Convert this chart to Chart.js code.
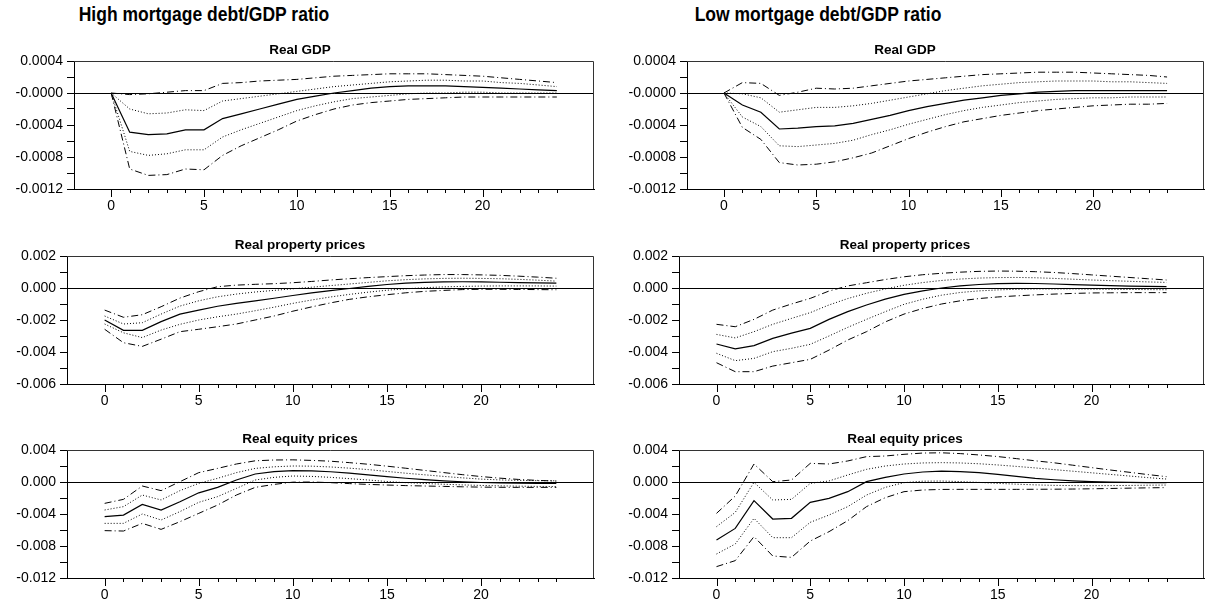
<!DOCTYPE html>
<html>
<head>
<meta charset="utf-8">
<script src="https://cdn.jsdelivr.net/npm/chart.js@4.4.1/dist/chart.umd.min.js"></script>
<style>
  body { margin: 0; background: #fff; width: 1206px; height: 603px; position: relative; overflow: hidden;
         font-family: "Liberation Sans", Arial, sans-serif; }
  .head { position: absolute; top: 5px; font-weight: bold; font-size: 17.5px; line-height: 20px;
          white-space: nowrap; transform: translateX(-50%) scaleY(1.12); transform-origin: 50% 100%; color: #000; }
  .panel { position: absolute; }
</style>
</head>
<body>
<div class="head" style="left:204px">High mortgage debt/GDP ratio</div>
<div class="head" style="left:818px">Low mortgage debt/GDP ratio</div>

<div class="panel" style="left:0;top:40px"><canvas id="hiGdpChart" width="600" height="176"></canvas></div>
<div class="panel" style="left:604px;top:40px"><canvas id="loGdpChart" width="602" height="176"></canvas></div>
<div class="panel" style="left:0;top:235px"><canvas id="hiPropChart" width="600" height="176"></canvas></div>
<div class="panel" style="left:604px;top:235px"><canvas id="loPropChart" width="602" height="176"></canvas></div>
<div class="panel" style="left:0;top:429px"><canvas id="hiEqChart" width="600" height="174"></canvas></div>
<div class="panel" style="left:604px;top:429px"><canvas id="loEqChart" width="602" height="174"></canvas></div>

<script>
// ---------- data ----------
const horizons = [0,1,2,3,4,5,6,7,8,9,10,11,12,13,14,15,16,17,18,19,20,21,22,23,24];
const xTickLabels = ['0', '5', '10', '15', '20'];
const gdpTickLabels = ['-0.0012', '-0.0008', '-0.0004', '-0.0000', '0.0004'];
const propTickLabels = ['-0.006', '-0.004', '-0.002', '0.000', '0.002'];
const eqTickLabels = ['-0.012', '-0.008', '-0.004', '0.000', '0.004'];

// High mortgage debt/GDP - Real GDP
const hiGdp    = [0, -0.00049, -0.00052, -0.00051, -0.00046, -0.00046, -0.00032, -0.00026, -0.00020, -0.00014, -0.00008, -0.00004, 0.00000, 0.00003, 0.00006, 0.00008, 0.00009, 0.00009, 0.00009, 0.00008, 0.00007, 0.00006, 0.00005, 0.00004, 0.00003];
const hiGdpUp1 = [0, -0.00020, -0.00026, -0.00025, -0.00021, -0.00022, -0.00010, -0.00007, -0.00004, -0.00001, 0.00002, 0.00005, 0.00008, 0.00010, 0.00012, 0.00014, 0.00015, 0.00016, 0.00016, 0.00015, 0.00015, 0.00013, 0.00012, 0.00010, 0.00008];
const hiGdpLo1 = [0, -0.00073, -0.00078, -0.00076, -0.00071, -0.00071, -0.00055, -0.00046, -0.00038, -0.00030, -0.00022, -0.00016, -0.00011, -0.00007, -0.00005, -0.00003, -0.00001, 0.00000, 0.00000, 0.00001, 0.00001, 0.00000, 0.00000, 0.00000, 0.00000];
const hiGdpUp2 = [0, -0.00002, -0.00001, 0.00001, 0.00003, 0.00003, 0.00012, 0.00013, 0.00015, 0.00016, 0.00017, 0.00019, 0.00021, 0.00022, 0.00023, 0.00024, 0.00024, 0.00024, 0.00023, 0.00022, 0.00021, 0.00019, 0.00017, 0.00015, 0.00013];
const hiGdpLo2 = [0, -0.00095, -0.00103, -0.00102, -0.00095, -0.00096, -0.00078, -0.00066, -0.00056, -0.00046, -0.00035, -0.00027, -0.00020, -0.00015, -0.00012, -0.00010, -0.00008, -0.00007, -0.00006, -0.00005, -0.00005, -0.00005, -0.00005, -0.00005, -0.00005];

// Low mortgage debt/GDP - Real GDP
const loGdp    = [0, -0.00015, -0.00024, -0.00045, -0.00044, -0.00042, -0.00041, -0.00038, -0.00033, -0.00028, -0.00022, -0.00017, -0.00013, -0.00009, -0.00006, -0.00003, -0.00001, 0.00001, 0.00002, 0.00003, 0.00003, 0.00003, 0.00003, 0.00003, 0.00003];
const loGdpUp1 = [0, -0.00001, -0.00006, -0.00024, -0.00021, -0.00018, -0.00018, -0.00016, -0.00013, -0.00009, -0.00005, -0.00001, 0.00003, 0.00006, 0.00009, 0.00011, 0.00013, 0.00014, 0.00015, 0.00015, 0.00015, 0.00014, 0.00014, 0.00013, 0.00012];
const loGdpLo1 = [0, -0.00030, -0.00042, -0.00066, -0.00067, -0.00065, -0.00063, -0.00059, -0.00052, -0.00046, -0.00039, -0.00033, -0.00027, -0.00022, -0.00018, -0.00015, -0.00012, -0.00010, -0.00008, -0.00007, -0.00006, -0.00006, -0.00005, -0.00005, -0.00005];
const loGdpUp2 = [0, 0.00013, 0.00012, -0.00003, 0.00001, 0.00006, 0.00005, 0.00006, 0.00009, 0.00012, 0.00015, 0.00017, 0.00019, 0.00021, 0.00023, 0.00024, 0.00025, 0.00026, 0.00026, 0.00026, 0.00025, 0.00024, 0.00023, 0.00022, 0.00020];
const loGdpLo2 = [0, -0.00043, -0.00058, -0.00087, -0.00090, -0.00089, -0.00086, -0.00081, -0.00075, -0.00066, -0.00057, -0.00049, -0.00042, -0.00036, -0.00032, -0.00028, -0.00025, -0.00022, -0.00020, -0.00018, -0.00016, -0.00015, -0.00014, -0.00014, -0.00013];

// High mortgage debt/GDP - Real property prices
const hiProp    = [-0.00200, -0.00265, -0.00265, -0.00210, -0.00163, -0.00138, -0.00114, -0.00096, -0.00080, -0.00064, -0.00047, -0.00030, -0.00016, -0.00003, 0.00010, 0.00022, 0.00030, 0.00035, 0.00038, 0.00039, 0.00038, 0.00036, 0.00034, 0.00032, 0.00030];
const hiPropUp1 = [-0.00175, -0.00225, -0.00217, -0.00163, -0.00113, -0.00080, -0.00055, -0.00038, -0.00025, -0.00015, -0.00005, 0.00005, 0.00015, 0.00025, 0.00035, 0.00045, 0.00052, 0.00057, 0.00060, 0.00061, 0.00060, 0.00058, 0.00054, 0.00049, 0.00043];
const hiPropLo1 = [-0.00225, -0.00280, -0.00310, -0.00263, -0.00227, -0.00200, -0.00180, -0.00163, -0.00142, -0.00120, -0.00096, -0.00075, -0.00056, -0.00040, -0.00026, -0.00014, -0.00005, 0.00002, 0.00007, 0.00010, 0.00012, 0.00013, 0.00013, 0.00013, 0.00012];
const hiPropUp2 = [-0.00138, -0.00183, -0.00167, -0.00117, -0.00063, -0.00023, 0.00008, 0.00018, 0.00023, 0.00027, 0.00033, 0.00041, 0.00050, 0.00058, 0.00065, 0.00071, 0.00077, 0.00081, 0.00084, 0.00084, 0.00082, 0.00079, 0.00074, 0.00068, 0.00061];
const hiPropLo2 = [-0.00258, -0.00342, -0.00365, -0.00320, -0.00273, -0.00258, -0.00242, -0.00225, -0.00200, -0.00175, -0.00145, -0.00118, -0.00093, -0.00071, -0.00055, -0.00042, -0.00030, -0.00021, -0.00015, -0.00010, -0.00008, -0.00008, -0.00009, -0.00010, -0.00011];

// Low mortgage debt/GDP - Real property prices
const loProp    = [-0.00350, -0.00380, -0.00360, -0.00315, -0.00282, -0.00252, -0.00196, -0.00148, -0.00106, -0.00070, -0.00040, -0.00018, 0.00000, 0.00013, 0.00022, 0.00027, 0.00029, 0.00028, 0.00025, 0.00021, 0.00018, 0.00015, 0.00012, 0.00010, 0.00008];
const loPropUp1 = [-0.00290, -0.00312, -0.00273, -0.00227, -0.00190, -0.00154, -0.00106, -0.00066, -0.00033, -0.00006, 0.00017, 0.00034, 0.00047, 0.00056, 0.00062, 0.00065, 0.00066, 0.00064, 0.00060, 0.00055, 0.00050, 0.00046, 0.00042, 0.00038, 0.00035];
const loPropLo1 = [-0.00408, -0.00454, -0.00440, -0.00398, -0.00377, -0.00352, -0.00300, -0.00246, -0.00196, -0.00148, -0.00102, -0.00070, -0.00045, -0.00028, -0.00018, -0.00012, -0.00008, -0.00006, -0.00006, -0.00006, -0.00007, -0.00008, -0.00009, -0.00010, -0.00011];
const loPropUp2 = [-0.00227, -0.00242, -0.00196, -0.00138, -0.00100, -0.00065, -0.00019, 0.00013, 0.00033, 0.00053, 0.00070, 0.00083, 0.00092, 0.00099, 0.00104, 0.00106, 0.00105, 0.00102, 0.00097, 0.00090, 0.00082, 0.00074, 0.00066, 0.00058, 0.00050];
const loPropLo2 = [-0.00467, -0.00523, -0.00523, -0.00488, -0.00467, -0.00446, -0.00388, -0.00325, -0.00273, -0.00212, -0.00163, -0.00128, -0.00100, -0.00080, -0.00066, -0.00056, -0.00049, -0.00043, -0.00038, -0.00034, -0.00031, -0.00030, -0.00029, -0.00029, -0.00029];

// High mortgage debt/GDP - Real equity prices
const hiEq    = [-0.00433, -0.00413, -0.00280, -0.00350, -0.00246, -0.00135, -0.00067, 0.00025, 0.00100, 0.00130, 0.00142, 0.00140, 0.00128, 0.00110, 0.00090, 0.00068, 0.00047, 0.00030, 0.00015, 0.00003, -0.00006, -0.00011, -0.00014, -0.00016, -0.00017];
const hiEqUp1 = [-0.00350, -0.00308, -0.00163, -0.00225, -0.00108, -0.00017, 0.00046, 0.00117, 0.00170, 0.00190, 0.00200, 0.00198, 0.00188, 0.00173, 0.00155, 0.00132, 0.00110, 0.00090, 0.00070, 0.00052, 0.00036, 0.00026, 0.00020, 0.00017, 0.00015];
const hiEqLo1 = [-0.00517, -0.00517, -0.00400, -0.00475, -0.00370, -0.00254, -0.00183, -0.00080, 0.00025, 0.00058, 0.00075, 0.00070, 0.00058, 0.00042, 0.00025, 0.00006, -0.00008, -0.00018, -0.00028, -0.00036, -0.00043, -0.00048, -0.00052, -0.00055, -0.00057];
const hiEqUp2 = [-0.00267, -0.00217, -0.00050, -0.00108, 0.00004, 0.00117, 0.00170, 0.00225, 0.00265, 0.00275, 0.00277, 0.00270, 0.00260, 0.00242, 0.00222, 0.00198, 0.00172, 0.00145, 0.00118, 0.00092, 0.00068, 0.00048, 0.00032, 0.00020, 0.00012];
const hiEqLo2 = [-0.00608, -0.00613, -0.00517, -0.00592, -0.00496, -0.00392, -0.00288, -0.00163, -0.00067, -0.00030, -0.00002, 0.00000, -0.00008, -0.00020, -0.00030, -0.00038, -0.00045, -0.00050, -0.00055, -0.00060, -0.00064, -0.00066, -0.00067, -0.00067, -0.00067];

// Low mortgage debt/GDP - Real equity prices
const loEq    = [-0.00725, -0.00580, -0.00233, -0.00463, -0.00454, -0.00254, -0.00204, -0.00121, 0.00004, 0.00058, 0.00100, 0.00125, 0.00135, 0.00130, 0.00117, 0.00096, 0.00070, 0.00046, 0.00028, 0.00014, 0.00004, -0.00002, -0.00005, -0.00007, -0.00008];
const loEqUp1 = [-0.00558, -0.00380, -0.00004, -0.00225, -0.00217, -0.00017, 0.00013, 0.00088, 0.00158, 0.00200, 0.00225, 0.00238, 0.00242, 0.00238, 0.00228, 0.00213, 0.00195, 0.00176, 0.00155, 0.00135, 0.00115, 0.00095, 0.00075, 0.00055, 0.00037];
const loEqLo1 = [-0.00900, -0.00775, -0.00454, -0.00696, -0.00696, -0.00504, -0.00413, -0.00308, -0.00163, -0.00067, -0.00008, 0.00010, 0.00012, 0.00005, -0.00005, -0.00017, -0.00027, -0.00036, -0.00042, -0.00045, -0.00046, -0.00045, -0.00043, -0.00040, -0.00038];
const loEqUp2 = [-0.00392, -0.00175, 0.00225, 0.00004, 0.00025, 0.00233, 0.00225, 0.00263, 0.00317, 0.00325, 0.00346, 0.00362, 0.00365, 0.00355, 0.00338, 0.00318, 0.00292, 0.00265, 0.00240, 0.00210, 0.00180, 0.00150, 0.00122, 0.00093, 0.00067];
const loEqLo2 = [-0.01058, -0.00983, -0.00683, -0.00925, -0.00942, -0.00738, -0.00621, -0.00483, -0.00308, -0.00196, -0.00121, -0.00100, -0.00093, -0.00092, -0.00092, -0.00092, -0.00092, -0.00091, -0.00090, -0.00088, -0.00085, -0.00081, -0.00077, -0.00073, -0.00070];

// ---------- drawing ----------
const FONT = '"Liberation Sans", Arial, sans-serif';

// frame (top/right), minor+major x ticks and the panel title
const panelDecor = {
    id: 'panelDecor',
    afterDraw(chart, args, opts) {
        const ctx = chart.ctx;
        const a = chart.chartArea;
        const xs = chart.scales.x;
        ctx.save();
        ctx.lineWidth = 1;
        ctx.strokeStyle = '#333';
        ctx.beginPath();
        ctx.moveTo(a.left, a.top + 0.5);
        ctx.lineTo(a.right - 0.5, a.top + 0.5);
        ctx.lineTo(a.right - 0.5, a.bottom);
        ctx.stroke();

        ctx.strokeStyle = '#000';
        ctx.beginPath();
        horizons.forEach(function(h) {
            const px = Math.round(xs.getPixelForValue(h)) + 0.5;
            const len = h % 5 === 0 ? 8 : 4;
            ctx.moveTo(px, a.bottom);
            ctx.lineTo(px, a.bottom + len);
        });
        ctx.stroke();

        ctx.fillStyle = '#000';
        ctx.font = 'bold 13.5px ' + FONT;
        ctx.textAlign = 'center';
        ctx.textBaseline = 'alphabetic';
        ctx.fillText(opts.text, chart.width / 2, a.top - 7);
        ctx.restore();
    }
};

function line(vals, dash, width) {
    return {
        data: vals.map(function(v, i) { return { x: horizons[i], y: v }; }),
        borderColor: '#000',
        borderWidth: width,
        borderDash: dash,
        pointRadius: 0,
        fill: false,
        tension: 0
    };
}

function makePanel(id, p) {
    const nSteps = p.tickLabels.length * 2 - 2;
    const step = (p.yMax - p.yMin) / nSteps;
    return new Chart(document.getElementById(id), {
        type: 'line',
        data: {
            datasets: [
                line(p.up2, [7, 3, 1, 3], 1),
                line(p.up1, [1, 2], 1),
                line(p.mid, [], 1.2),
                line(p.lo1, [1, 2], 1),
                line(p.lo2, [7, 3, 1, 3], 1)
            ]
        },
        options: {
            responsive: false,
            animation: false,
            layout: { padding: { top: 21, right: p.padRight, left: 0, bottom: 0 } },
            plugins: {
                legend: { display: false },
                tooltip: { enabled: false },
                panelDecor: { text: p.title }
            },
            scales: {
                x: {
                    type: 'linear',
                    min: -2,
                    max: 26,
                    afterBuildTicks: function(s) {
                        s.ticks = xTickLabels.map(function(t) { return { value: Number(t) }; });
                    },
                    ticks: {
                        callback: function(v, i) { return xTickLabels[i]; },
                        font: { size: 14, family: FONT },
                        color: '#000',
                        padding: 9,
                        maxRotation: 0,
                        autoSkip: false
                    },
                    grid: { display: false, drawTicks: false },
                    border: { color: '#000', width: 1 },
                    afterFit: function(s) { s.height = p.xHeight; }
                },
                y: {
                    min: p.yMin,
                    max: p.yMax,
                    afterBuildTicks: function(s) {
                        const t = [];
                        for (let i = 0; i <= nSteps; i++) t.push({ value: p.yMin + i * step });
                        s.ticks = t;
                    },
                    ticks: {
                        callback: function(v, i) { return i % 2 === 0 ? p.tickLabels[i / 2] : ''; },
                        font: { size: 14, family: FONT },
                        color: '#000',
                        padding: 4,
                        autoSkip: false
                    },
                    grid: {
                        color: function(c) {
                            return (c.tick && Math.abs(c.tick.value) < 1e-9) ? '#000' : 'rgba(0,0,0,0)';
                        },
                        tickColor: '#000',
                        tickLength: 7,
                        lineWidth: 1
                    },
                    border: { color: '#000', width: 1 },
                    afterFit: function(s) { s.width = p.yWidth; }
                }
            }
        },
        plugins: [panelDecor]
    });
}

makePanel('hiGdpChart', { title: 'Real GDP', mid: hiGdp, up1: hiGdpUp1, lo1: hiGdpLo1, up2: hiGdpUp2, lo2: hiGdpLo2,
    yMin: -0.0012, yMax: 0.0004, tickLabels: gdpTickLabels, yWidth: 74, xHeight: 27, padRight: 6 });
makePanel('loGdpChart', { title: 'Real GDP', mid: loGdp, up1: loGdpUp1, lo1: loGdpLo1, up2: loGdpUp2, lo2: loGdpLo2,
    yMin: -0.0012, yMax: 0.0004, tickLabels: gdpTickLabels, yWidth: 83, xHeight: 27, padRight: 2 });
makePanel('hiPropChart', { title: 'Real property prices', mid: hiProp, up1: hiPropUp1, lo1: hiPropLo1, up2: hiPropUp2, lo2: hiPropLo2,
    yMin: -0.006, yMax: 0.002, tickLabels: propTickLabels, yWidth: 67, xHeight: 27, padRight: 6 });
makePanel('loPropChart', { title: 'Real property prices', mid: loProp, up1: loPropUp1, lo1: loPropLo1, up2: loPropUp2, lo2: loPropLo2,
    yMin: -0.006, yMax: 0.002, tickLabels: propTickLabels, yWidth: 75, xHeight: 27, padRight: 2 });
makePanel('hiEqChart', { title: 'Real equity prices', mid: hiEq, up1: hiEqUp1, lo1: hiEqLo1, up2: hiEqUp2, lo2: hiEqLo2,
    yMin: -0.012, yMax: 0.004, tickLabels: eqTickLabels, yWidth: 67, xHeight: 25, padRight: 6 });
makePanel('loEqChart', { title: 'Real equity prices', mid: loEq, up1: loEqUp1, lo1: loEqLo1, up2: loEqUp2, lo2: loEqLo2,
    yMin: -0.012, yMax: 0.004, tickLabels: eqTickLabels, yWidth: 75, xHeight: 25, padRight: 2 });
</script>
</body>
</html>
